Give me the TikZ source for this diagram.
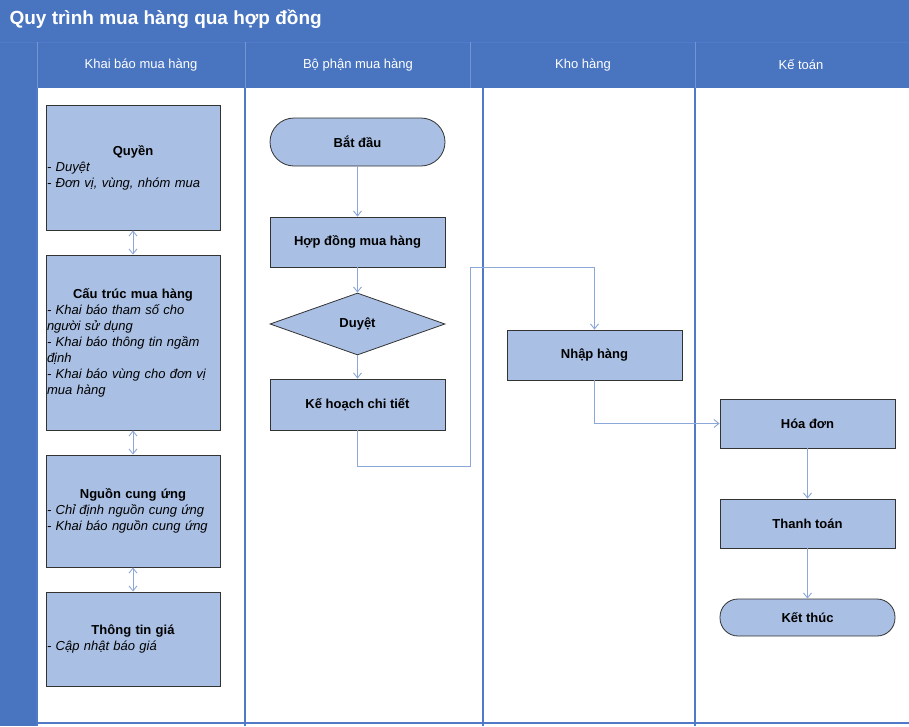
\documentclass[tikz,border=0pt]{standalone}
\usepackage{fontspec}
\setmainfont{Liberation Sans}
\usetikzlibrary{shapes.geometric,arrows.meta}
\definecolor{hdr}{RGB}{72,116,192}
\definecolor{lane}{RGB}{80,122,200}
\definecolor{boxf}{RGB}{169,191,227}
\definecolor{conn}{RGB}{140,168,216}
\tikzset{
 x=1pt,y=-1pt,
 bx/.style={draw=black!80,line width=0.8pt,fill=boxf,font=\bfseries\fontsize{13}{16}\selectfont},
 lbx/.style={draw=black!80,line width=0.8pt,fill=boxf,font=\fontsize{13}{16}\selectfont,text width=172pt,align=left,inner sep=1pt},
 cn/.style={draw=conn,line width=0.9pt,-{Straight Barb[length=5pt,width=8pt]}},
 dcn/.style={draw=conn,line width=0.9pt,{Straight Barb[length=5pt,width=8pt]}-{Straight Barb[length=5pt,width=8pt]}},
 htxt/.style={text=white,font=\fontsize{13}{16}\selectfont}
}
\newcommand{\ttl}[1]{\makebox[172pt]{\bfseries #1}}
\begin{document}
\begin{tikzpicture}
\useasboundingbox (0,0) rectangle (909,726);
\fill[white] (0,0) rectangle (909,726);
\fill[hdr] (0,0) rectangle (909,42);
\fill[hdr] (0,42) rectangle (37,726);
\fill[hdr] (37,42) rectangle (909,88);
\draw[lane,line width=1pt] (0,42) -- (909,42);
\foreach \xx in {37,245,470,695}{\draw[lane!80!white,line width=1pt] (\xx,42) -- (\xx,88);}
\foreach \xx in {37,245,483,695}{\draw[lane,line width=1.8pt] (\xx,88) -- (\xx,726);}
\draw[lane,line width=1.8pt] (37,723) -- (909,723);
\node[text=white,font=\bfseries\fontsize{19}{22}\selectfont,anchor=west] (title) at (6,19) {Quy trình mua hàng qua hợp đồng};
\node[htxt] (h1) at (141,65) {Khai báo mua hàng};
\node[htxt] (h2) at (358,65) {Bộ phận mua hàng};
\node[htxt] (h3) at (583,65) {Kho hàng};
\node[htxt] (h4) at (801,65) {Kế toán};
% left boxes
\node[lbx,minimum height=125pt] (q) at (133,167.5) {\ttl{Quyền}\\\itshape - Duyệt\\\itshape - Đơn vị, vùng, nhóm mua};
\node[lbx,minimum height=175pt] (c) at (133,342.5) {\ttl{Cấu trúc mua hàng}\\\itshape - Khai báo tham số cho người sử dụng\\\itshape - Khai báo thông tin ngầm định\\\itshape - Khai báo vùng cho đơn vị mua hàng};
\node[lbx,minimum height=112pt] (n) at (133,511) {\ttl{Nguồn cung ứng}\\\itshape - Chỉ định nguồn cung ứng\\\itshape - Khai báo nguồn cung ứng};
\node[lbx,minimum height=94pt] (g) at (133,639) {\ttl{Thông tin giá}\\\itshape - Cập nhật báo giá};
\draw[dcn] (q) -- (c);
\draw[dcn] (c) -- (n);
\draw[dcn] (n) -- (g);
% middle lane
\node[bx,rounded corners=24pt,minimum width=175pt,minimum height=48pt] (bd) at (357.5,142) {Bắt đầu};
\node[bx,minimum width=175pt,minimum height=50pt] (hd) at (357.5,242) {Hợp đồng mua hàng};
\node[bx,diamond,aspect=2.8,minimum width=175pt,minimum height=62pt,inner sep=0pt] (dy) at (357.5,324) {Duyệt};
\node[bx,minimum width=175pt,minimum height=51pt] (kh) at (357.5,404.5) {Kế hoạch chi tiết};
\node[bx,minimum width=175pt,minimum height=50pt] (nh) at (594.5,355) {Nhập hàng};
\node[bx,minimum width=175pt,minimum height=49pt] (hdn) at (807.5,423.5) {Hóa đơn};
\node[bx,minimum width=175pt,minimum height=49pt] (tt) at (807.5,523.5) {Thanh toán};
\node[bx,rounded corners=18pt,minimum width=175pt,minimum height=37pt] (kt) at (807.5,617.5) {Kết thúc};
\coordinate (p1) at (357.5,466);
\coordinate (p2) at (470,466);
\coordinate (p3) at (470,267);
\coordinate (p4) at (594.5,267);
\coordinate (p5) at (594.5,423.5);
\draw[cn] (bd) -- (hd);
\draw[cn] (hd) -- (dy);
\draw[cn] (dy) -- (kh);
\draw[cn] (kh.south) -- (p1) -- (p2) -- (p3) -- (p4) -- (nh.north);
\draw[cn] (nh.south) -- (p5) -- (hdn.west);
\draw[cn] (hdn) -- (tt);
\draw[cn] (tt) -- (kt);
\end{tikzpicture}
\end{document}
